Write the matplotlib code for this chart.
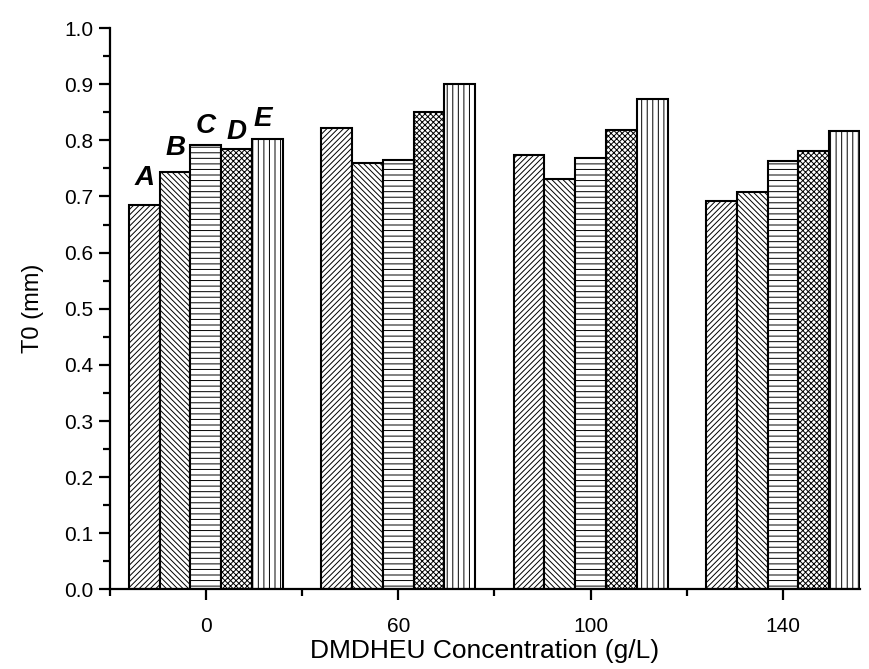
import numpy as np
import matplotlib
matplotlib.use("Agg")
import matplotlib.pyplot as plt
from matplotlib.ticker import MultipleLocator, FixedLocator, FormatStrFormatter

plt.rcParams['font.family'] = ['Liberation Sans', 'DejaVu Sans']
plt.rcParams['hatch.linewidth'] = 0.7

# T0 (mm) per DMDHEU concentration, series A-E
concentrations = ['0', '60', '100', '140']
series_names = ['A', 'B', 'C', 'D', 'E']
t0_A = [0.685, 0.822, 0.774, 0.692]
t0_B = [0.744, 0.759, 0.731, 0.708]
t0_C = [0.792, 0.765, 0.769, 0.764]
t0_D = [0.785, 0.851, 0.818, 0.781]
t0_E = [0.803, 0.900, 0.874, 0.816]
series_values = [t0_A, t0_B, t0_C, t0_D, t0_E]

hatches = ['//////', '\\\\\\\\\\\\', '---', 'xxxxxx', '|||']

fig = plt.figure(figsize=(8.69, 6.69), dpi=100)
ax = fig.add_axes([0.1262, 0.119, 0.8634, 0.839])

x = np.arange(len(concentrations))
width = 0.16
for i, (vals, h) in enumerate(zip(series_values, hatches)):
    ax.bar(x + (i - 2) * width, vals, width, facecolor='white',
           edgecolor='black', linewidth=1.5, hatch=h, zorder=2)
    # series letter above the first group
    dx = -3 if series_names[i] == 'E' else 0
    ax.annotate(series_names[i], (x[0] + (i - 2) * width, vals[0]),
                xytext=(dx, [10, 8, 4, 3, 5][i]), textcoords='offset points',
                ha='center', va='bottom', fontsize=20,
                fontweight='bold', fontstyle='italic')

ax.set_xlim(-0.5, 3.40)
ax.set_ylim(0, 1.0)
ax.set_xticks(x)
ax.set_xticklabels(concentrations)
ax.xaxis.set_minor_locator(FixedLocator([-0.5, 0.5, 1.5, 2.5]))
ax.yaxis.set_major_locator(MultipleLocator(0.1))
ax.yaxis.set_minor_locator(MultipleLocator(0.05))
ax.yaxis.set_major_formatter(FormatStrFormatter('%.1f'))

for side in ['top', 'right']:
    ax.spines[side].set_visible(False)
for side in ['left', 'bottom']:
    ax.spines[side].set_linewidth(1.6)

ax.tick_params(which='major', direction='out', length=8, width=1.6)
ax.tick_params(which='minor', direction='out', length=5, width=1.6)
ax.tick_params(axis='y', which='major', labelsize=15, pad=4)
ax.tick_params(axis='x', which='major', labelsize=15, pad=12)

ax.set_xlabel('DMDHEU Concentration (g/L)', fontsize=19, labelpad=2)
ax.set_ylabel('T0 (mm)', fontsize=17, labelpad=14)

fig.savefig('out.png', dpi=100)
